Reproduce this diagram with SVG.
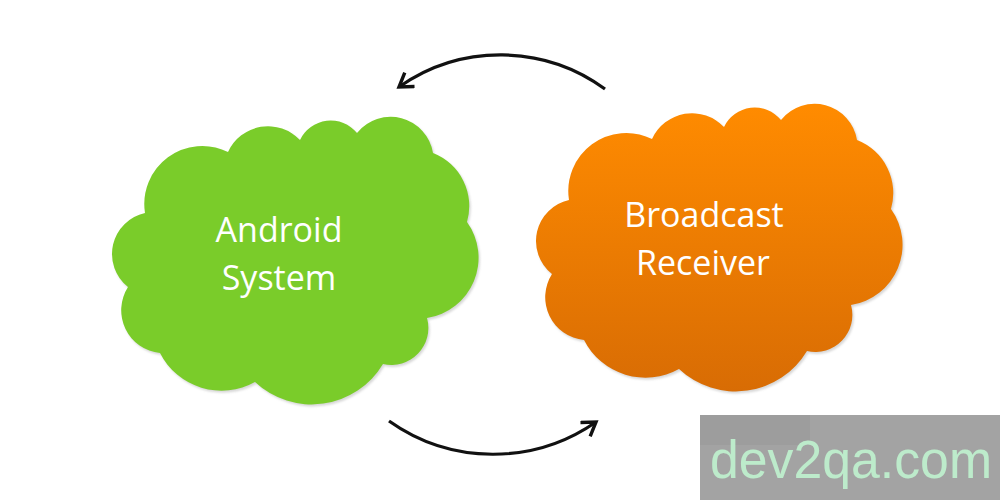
<svg xmlns="http://www.w3.org/2000/svg" width="1000" height="500" viewBox="0 0 1000 500">
  <defs>
    <path id="cloudShape" d="M145,213 A58,58 0 0 1 228,152 A44,44 0 0 1 300,140 A34,34 0 0 1 357,133 A43,43 0 0 1 433,153 A57,57 0 0 1 467,222 A61,61 0 0 1 427,318 A37,37 0 0 1 383,364 A83,83 0 0 1 255,382 A69,69 0 0 1 160,353 A43,43 0 0 1 128,287 A42,42 0 0 1 145,213 Z"/>
    <linearGradient id="orangeGrad" gradientUnits="userSpaceOnUse" x1="0" y1="120" x2="0" y2="405">
      <stop offset="0" stop-color="#FF8B00"/>
      <stop offset="1" stop-color="#D86C04"/>
    </linearGradient>
    <filter id="soft" x="-10%" y="-10%" width="120%" height="120%">
      <feGaussianBlur stdDeviation="1.2"/>
    </filter>
    <marker id="arrowHead" markerUnits="userSpaceOnUse" viewBox="-16 -10 20 20" refX="0" refY="0" markerWidth="20" markerHeight="20" orient="auto">
      <path d="M-13,-8.5 L0,0 L-13,8.5" fill="none" stroke="#111" stroke-width="3.4" stroke-linejoin="miter"/>
    </marker>
    <style>
      .label { font-family: "Open Sans", "Noto Sans", "Liberation Sans", sans-serif; font-size: 34px; fill: #ffffff; text-anchor: middle; }
      .shadow { fill: #bdbdbd; opacity: 0.6; }
      .conn { fill: none; stroke: #111; stroke-width: 3.2; marker-end: url(#arrowHead); }
      .wm { font-family: "Liberation Sans", Arial, sans-serif; font-size: 53px; fill: #BDEBCB; }
    </style>
  </defs>

  <rect width="1000" height="500" fill="#ffffff"/>

  <g id="connectors">
    <path class="conn" d="M605,89 A177,177 0 0 0 399,87"/>
    <path class="conn" d="M389,421 A180,180 0 0 0 596,422"/>
  </g>

  <g id="android-system">
    <use href="#cloudShape" class="shadow" transform="translate(1.5,2)" filter="url(#soft)"/>
    <use href="#cloudShape" fill="#7ACC2A"/>
    <text class="label" x="279" y="242">Android</text>
    <text class="label" x="279" y="290">System</text>
  </g>

  <g id="broadcast-receiver">
    <g transform="translate(424,-13)">
      <use href="#cloudShape" class="shadow" transform="translate(1.5,2)" filter="url(#soft)"/>
      <use href="#cloudShape" fill="url(#orangeGrad)"/>
    </g>
    <text class="label" x="704" y="227">Broadcast</text>
    <text class="label" x="703" y="275">Receiver</text>
  </g>

  <g id="watermark">
    <rect x="700" y="415" width="300" height="85" fill="#A3A3A3"/>
    <rect x="700" y="415" width="110" height="30" fill="#999999" opacity="0.6"/>
    <text class="wm" x="710" y="478" textLength="282" lengthAdjust="spacingAndGlyphs">dev2qa.com</text>
  </g>
</svg>
